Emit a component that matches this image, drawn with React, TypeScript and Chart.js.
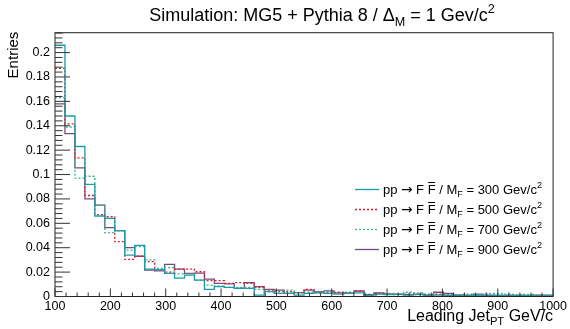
import { useEffect, useRef } from "react";
import { Chart, registerables } from "chart.js";

Chart.register(...registerables);

// Bin edges (GeV/c), 50 bins of 18 GeV from 100 to 1000
const binEdges = [
  100, 118, 136, 154, 172, 190, 208, 226, 244, 262, 280, 298, 316, 334, 352, 370, 388,
  406, 424, 442, 460, 478, 496, 514, 532, 550, 568, 586, 604, 622, 640, 658, 676, 694,
  712, 730, 748, 766, 784, 802, 820, 838, 856, 874, 892, 910, 928, 946, 964, 982, 1000,
];

const xTickLabels = [100, 200, 300, 400, 500, 600, 700, 800, 900, 1000];
const yTickLabels = [0, 0.02, 0.04, 0.06, 0.08, 0.1, 0.12, 0.14, 0.16, 0.18, 0.2];

const massLabels = ["300", "500", "700", "900"];

const m300 = [
  0.206, 0.148, 0.123, 0.092, 0.066, 0.064, 0.054, 0.034, 0.042, 0.0225,
  0.022, 0.019, 0.015, 0.0176, 0.0135, 0.0059, 0.0081, 0.0075, 0.0067, 0.0067,
  0.0012, 0.004, 0.0026, 0.0026, 0.0012, 0.0026, 0.003, 0.0025, 0.002, 0.0025,
  0.003, 0.001, 0.002, 0.0015, 0.002, 0.0012, 0.0015, 0.001, 0.0012, 0.001,
  0.0012, 0.0008, 0.001, 0.0012, 0.0008, 0.001, 0.0006, 0.0008, 0.0005, 0.0006,
];
const m500 = [
  0.187, 0.1416, 0.1137, 0.0828, 0.0672, 0.0654, 0.045, 0.0305, 0.033, 0.0286,
  0.022, 0.02, 0.0225, 0.0225, 0.0203, 0.013, 0.013, 0.0108, 0.0114, 0.0108,
  0.0075, 0.0053, 0.004, 0.004, 0.0032, 0.0059, 0.0032, 0.003, 0.0035, 0.003,
  0.0045, 0.0015, 0.0025, 0.002, 0.0015, 0.002, 0.0018, 0.0015, 0.002, 0.0012,
  0.001, 0.0012, 0.001, 0.0008, 0.001, 0.0008, 0.001, 0.0006, 0.0008, 0.0005,
];
const m700 = [
  0.163, 0.139, 0.097, 0.0986, 0.075, 0.0523, 0.054, 0.038, 0.041, 0.03,
  0.023, 0.0237, 0.0185, 0.0185, 0.0135, 0.0094, 0.0086, 0.0075, 0.0075, 0.0075,
  0.0059, 0.004, 0.0053, 0.0053, 0.0032, 0.0035, 0.004, 0.004, 0.003, 0.0035,
  0.0045, 0.002, 0.002, 0.0025, 0.002, 0.0035, 0.003, 0.002, 0.0015, 0.0015,
  0.0015, 0.002, 0.0015, 0.0025, 0.0025, 0.002, 0.0015, 0.0018, 0.001, 0.0008,
];
const m900 = [
  0.158, 0.1336, 0.1055, 0.08, 0.075, 0.0564, 0.054, 0.04, 0.033, 0.0217,
  0.021, 0.0264, 0.0225, 0.019, 0.0191, 0.0143, 0.0108, 0.0103, 0.0067, 0.0114,
  0.0081, 0.0059, 0.0053, 0.0026, 0.0032, 0.0053, 0.004, 0.0046, 0.003, 0.0028,
  0.0045, 0.0015, 0.003, 0.002, 0.0018, 0.0015, 0.002, 0.0012, 0.0035, 0.0025,
  0.001, 0.001, 0.002, 0.001, 0.0008, 0.001, 0.0008, 0.0006, 0.0012, 0.0012,
];

const FONT = '"Liberation Sans", Arial, Helvetica, sans-serif';
const SYMFONT = '"DejaVu Sans", sans-serif';

type Seg = { t: string; sub?: boolean; sup?: boolean; over?: boolean; sym?: boolean };

function drawRich(
  ctx: CanvasRenderingContext2D,
  segs: Seg[],
  x: number,
  y: number,
  size: number,
  align: "left" | "right" | "center"
) {
  const small = size * 0.7;
  const fontOf = (s: Seg) =>
    `${s.sub || s.sup ? small : s.sym ? size * 1.05 : size}px ${s.sym ? SYMFONT : FONT}`;
  const widths = segs.map((s) => {
    ctx.font = fontOf(s);
    return ctx.measureText(s.t).width;
  });
  const total = widths.reduce((a, b) => a + b, 0);
  let cx = align === "left" ? x : align === "right" ? x - total : x - total / 2;
  ctx.textAlign = "left";
  ctx.textBaseline = "alphabetic";
  segs.forEach((s, i) => {
    ctx.font = fontOf(s);
    let yy = y;
    if (s.sub) yy = y + size * 0.28;
    if (s.sup) yy = y - size * 0.42;
    ctx.fillText(s.t, cx, yy);
    if (s.over) {
      const oy = Math.round(y - size * 0.88) + 0.5;
      ctx.beginPath();
      ctx.moveTo(cx + 0.5, oy);
      ctx.lineTo(cx + widths[i] - 0.5, oy);
      ctx.lineWidth = 1;
      ctx.strokeStyle = ctx.fillStyle as string;
      ctx.stroke();
    }
    cx += widths[i];
  });
}

const styles = [
  { color: "#1f9aa8", dash: [] as number[] },
  { color: "#d8202f", dash: [2, 2] },
  { color: "#30b792", dash: [2, 2] },
  { color: "#7a4c7e", dash: [] as number[] },
];

export default function App() {
  const ref = useRef<HTMLCanvasElement>(null);

  useEffect(() => {
    const canvas = ref.current!;
    const series = [m300, m500, m700, m900];
    const mk = (vals: number[]) =>
      binEdges.map((x, i) => ({ x, y: vals[Math.min(i, vals.length - 1)] }));

    const decor = {
      id: "rootDecor",
      afterDraw(chart: any) {
        const { ctx, chartArea: a, scales } = chart;
        const xs = scales.x;
        const ys = scales.y;
        ctx.save();
        // frame
        ctx.strokeStyle = "#222";
        ctx.lineWidth = 1;
        ctx.setLineDash([]);
        ctx.strokeRect(a.left, a.top, a.right - a.left, a.bottom - a.top);

        // x ticks (inside)
        ctx.strokeStyle = "#333";
        ctx.beginPath();
        for (let v = 100; v <= 1000; v += 20) {
          const px = xs.getPixelForValue(v);
          const major = v % 100 === 0;
          const len = major ? 8 : 4;
          ctx.moveTo(px, a.bottom);
          ctx.lineTo(px, a.bottom - len);
        }
        // y ticks (inside)
        for (let k = 0; k * 0.004 <= ys.max + 1e-9; k++) {
          const v = k * 0.004;
          const py = ys.getPixelForValue(v);
          const len = k % 5 === 0 ? 15 : 7.5;
          ctx.moveTo(a.left, py);
          ctx.lineTo(a.left + len, py);
        }
        ctx.stroke();

        ctx.fillStyle = "#000";
        // Title
        drawRich(
          ctx,
          [
            { t: "Simulation: MG5 + Pythia 8 / \u0394" },
            { t: "M", sub: true },
            { t: " = 1 Gev/c" },
            { t: "2", sup: true },
          ],
          322,
          21,
          18,
          "center"
        );

        // x axis title
        drawRich(
          ctx,
          [{ t: "Leading Jet" }, { t: "PT", sub: true }, { t: " GeV/c" }],
          a.right,
          321,
          16,
          "right"
        );

        // y axis title
        ctx.save();
        ctx.translate(18, a.top - 1);
        ctx.rotate(-Math.PI / 2);
        ctx.font = `15px ${FONT}`;
        ctx.textAlign = "right";
        ctx.textBaseline = "alphabetic";
        ctx.fillText("Entries", 0, 0);
        ctx.restore();

        // legend
        const rowY = [189, 209, 229, 249];
        massLabels.forEach((m, i) => {
          const st = styles[i];
          const y = rowY[i];
          ctx.beginPath();
          ctx.strokeStyle = st.color;
          ctx.lineWidth = 1.3;
          ctx.setLineDash(st.dash);
          ctx.moveTo(355, y + 0.5);
          ctx.lineTo(379, y + 0.5);
          ctx.stroke();
          ctx.setLineDash([]);
          ctx.fillStyle = "#000";
          drawRich(
            ctx,
            [
              { t: "pp " },
              { t: "\u2192", sym: true },
              { t: " F " },
              { t: "F", over: true },
              { t: " / M" },
              { t: "F", sub: true },
              { t: ` = ${m} Gev/c` },
              { t: "2", sup: true },
            ],
            383,
            y + 4.5,
            13,
            "left"
          );
        });
        ctx.restore();
      },
    };

    const chart = new Chart(canvas, {
      type: "line",
      data: {
        datasets: series.map((vals, i) => ({
          label: `M_F = ${massLabels[i]}`,
          data: mk(vals),
          borderColor: styles[i].color,
          borderWidth: 1.3,
          borderDash: styles[i].dash,
          stepped: "before" as const,
          pointRadius: 0,
          fill: false,
          tension: 0,
        })),
      },
      options: {
        responsive: false,
        animation: false,
        devicePixelRatio: 1,
        layout: { padding: { left: 0, top: 32.7, right: 15.7, bottom: 0 } },
        plugins: {
          legend: { display: false },
          title: { display: false },
          tooltip: { enabled: false },
        },
        scales: {
          x: {
            type: "linear",
            min: 100,
            max: 1000,
            afterFit: (s: any) => {
              s.height = 32.5;
            },
            afterBuildTicks: (s: any) => {
              s.ticks = xTickLabels.map((v) => ({ value: v }));
            },
            grid: { display: false, drawTicks: false },
            border: { display: false },
            ticks: {
              autoSkip: false,
              maxRotation: 0,
              padding: 3,
              color: "#000",
              font: { family: FONT, size: 12.5 },
              callback: (v: any) => String(v),
            },
          },
          y: {
            type: "linear",
            min: 0,
            max: 0.2163,
            afterFit: (s: any) => {
              s.width = 55;
            },
            afterBuildTicks: (s: any) => {
              s.ticks = yTickLabels.map((v) => ({ value: v }));
            },
            grid: { display: false, drawTicks: false },
            border: { display: false },
            ticks: {
              autoSkip: false,
              padding: 5,
              color: "#000",
              font: { family: FONT, size: 12.5 },
              callback: (v: any) => String(parseFloat((+v).toFixed(3))),
            },
          },
        },
      },
      plugins: [decor],
    });

    return () => chart.destroy();
  }, []);

  return (
    <div style={{ position: "absolute", left: 0, top: 0, width: 570, height: 329 }}>
      <canvas ref={ref} width={570} height={329} style={{ display: "block" }} />
    </div>
  );
}
